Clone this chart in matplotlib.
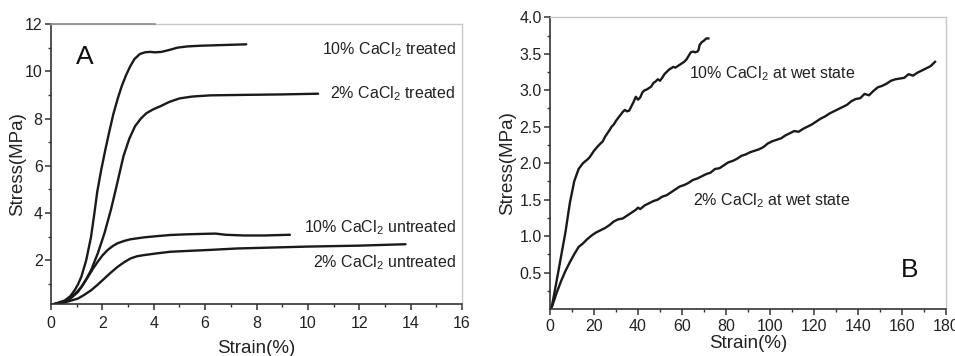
import matplotlib
matplotlib.use("Agg")
import matplotlib.pyplot as plt
from matplotlib.ticker import MultipleLocator, FormatStrFormatter

plt.rcParams['font.family'] = ['Liberation Sans', 'DejaVu Sans']
plt.rcParams['mathtext.fontset'] = 'custom'
plt.rcParams['mathtext.rm'] = 'Liberation Sans'
plt.rcParams['mathtext.it'] = 'Liberation Sans:italic'
plt.rcParams['mathtext.bf'] = 'Liberation Sans:bold'

# ---------------- Panel A data ----------------
a_t10_x = [0, 0.15, 0.54, 0.75, 0.92, 1.05, 1.18, 1.37, 1.56, 1.69, 1.8, 1.95, 2.10, 2.27, 2.43, 2.6,
           2.75, 2.92, 3.08, 3.25, 3.46, 3.65, 3.85, 4.05, 4.3, 4.6, 4.93, 5.3, 5.8, 6.4, 7.0, 7.6]
a_t10_y = [0.12, 0.16, 0.3, 0.48, 0.73, 0.98, 1.3, 2.0, 3.0, 4.0, 4.9, 5.8, 6.6, 7.45, 8.2, 8.85,
           9.36, 9.83, 10.2, 10.52, 10.73, 10.8, 10.82, 10.8, 10.82, 10.9, 11.0, 11.05, 11.08, 11.1, 11.12, 11.14]

a_t2_x = [0, 0.4, 0.79, 1.0, 1.18, 1.37, 1.56, 1.82, 2.08, 2.33, 2.5, 2.65, 2.82, 3.05, 3.27, 3.5,
          3.72, 4.0, 4.24, 4.6, 5.0, 5.5, 6.2, 7.5, 9.0, 10.4]
a_t2_y = [0.12, 0.2, 0.45, 0.65, 0.87, 1.2, 1.58, 2.29, 3.14, 4.13, 4.9, 5.6, 6.4, 7.15, 7.67, 8.0,
          8.23, 8.4, 8.51, 8.7, 8.85, 8.93, 8.98, 9.0, 9.02, 9.05]

a_u10_x = [0, 0.54, 0.8, 1.05, 1.25, 1.44, 1.62, 1.82, 2.0, 2.2, 2.4, 2.59, 2.85, 3.1, 3.62, 4.1,
           4.64, 5.3, 6.0, 6.4, 6.8, 7.5, 8.3, 9.3]
a_u10_y = [0.12, 0.23, 0.42, 0.66, 0.97, 1.3, 1.62, 1.94, 2.2, 2.43, 2.6, 2.72, 2.82, 2.89, 2.97, 3.02,
           3.07, 3.1, 3.12, 3.13, 3.08, 3.05, 3.05, 3.08]

a_u2_x = [0, 0.54, 1.05, 1.3, 1.56, 1.82, 2.08, 2.33, 2.59, 2.85, 3.1, 3.35, 3.62, 4.1, 4.64, 5.2,
          6.2, 7.25, 8.28, 10, 12, 13.8]
a_u2_y = [0.12, 0.22, 0.38, 0.54, 0.73, 0.97, 1.23, 1.48, 1.72, 1.92, 2.08, 2.17, 2.22, 2.29, 2.36, 2.39,
          2.44, 2.5, 2.53, 2.58, 2.62, 2.68]

a_labels = ["10% CaCl$_2$ treated", "2% CaCl$_2$ treated",
            "10% CaCl$_2$ untreated", "2% CaCl$_2$ untreated"]
a_label_y = [10.9, 9.05, 3.37, 1.89]

# ---------------- Panel B data ----------------
b_w10_x = [0.8, 2, 4, 7, 9, 11, 13, 15, 17, 18, 20, 22, 24, 25, 27, 28, 29, 30, 31, 32, 33, 34, 35, 36, 37,
           38, 39, 40, 41, 42, 43, 44, 46, 47, 48, 49, 50, 51, 52, 53, 54, 55, 56, 57, 58, 59, 60, 61,
           62, 63, 64, 65, 66, 67, 67.5, 68, 69, 70, 71, 72]
b_w10_y = [0.03, 0.22, 0.55, 1.05, 1.45, 1.75, 1.92, 2.0, 2.05, 2.08, 2.17, 2.24, 2.3, 2.36, 2.45, 2.5,
           2.53, 2.58, 2.62, 2.66, 2.7, 2.73, 2.71, 2.72, 2.78, 2.84, 2.91, 2.87, 2.9, 2.97, 3.0, 3.01,
           3.05, 3.1, 3.12, 3.15, 3.13, 3.17, 3.22, 3.25, 3.28, 3.3, 3.32, 3.31, 3.33, 3.35, 3.37, 3.39,
           3.42, 3.47, 3.52, 3.53, 3.52, 3.53, 3.55, 3.62, 3.66, 3.68, 3.71, 3.71]

b_w2_x = [1, 3, 5, 7, 9, 11, 13, 15, 17, 19, 21, 23, 25, 27, 29, 31, 33, 35, 37, 39, 40, 41, 43, 45, 47,
          49, 51, 53, 55, 57, 59, 61, 63, 65, 67, 69, 71, 73, 75, 77, 79, 81, 83, 85, 87, 89, 91, 93,
          95, 97, 99, 101, 103, 105, 107, 109, 111, 113, 115, 117, 119, 121, 123, 125, 127, 129, 131,
          133, 135, 137, 139, 141, 143, 145, 147, 149, 151, 153, 155, 157, 159, 161, 163, 165, 167,
          169, 171, 173, 175]
b_w2_y = [0.04, 0.22, 0.38, 0.52, 0.64, 0.75, 0.85, 0.9, 0.96, 1.01, 1.05, 1.08, 1.11, 1.15, 1.2, 1.23,
          1.24, 1.28, 1.32, 1.36, 1.39, 1.37, 1.42, 1.45, 1.48, 1.5, 1.54, 1.56, 1.6, 1.64, 1.68, 1.7,
          1.73, 1.77, 1.79, 1.82, 1.85, 1.87, 1.92, 1.93, 1.97, 2.01, 2.03, 2.06, 2.1, 2.12, 2.15, 2.17,
          2.19, 2.22, 2.27, 2.3, 2.32, 2.34, 2.38, 2.41, 2.44, 2.43, 2.47, 2.5, 2.53, 2.57, 2.61, 2.64,
          2.68, 2.71, 2.74, 2.77, 2.8, 2.85, 2.88, 2.89, 2.95, 2.93, 2.99, 3.04, 3.06, 3.09, 3.13, 3.15,
          3.16, 3.17, 3.22, 3.2, 3.24, 3.27, 3.3, 3.33, 3.39]

b_labels = ["10% CaCl$_2$ at wet state", "2% CaCl$_2$ at wet state"]
b_label_x = [63.2, 65]
b_label_y = [3.23, 1.49]

# ---------------- Figure ----------------
W, H = 955, 356
fig = plt.figure(figsize=(W / 100, H / 100), dpi=100)
axA = fig.add_axes([51 / W, 1 - 304 / H, (462 - 51) / W, (304 - 24) / H])
axB = fig.add_axes([550 / W, 1 - 309 / H, (946 - 550) / W, (309 - 17.3) / H])

lw = 1.7
dark = '#1a1a1a'
light = '#c8c8c8'

def style(ax, xpad):
    for s in ['left', 'bottom']:
        ax.spines[s].set_color('#333333')
        ax.spines[s].set_linewidth(1.2)
    for s in ['top', 'right']:
        ax.spines[s].set_color(light)
        ax.spines[s].set_linewidth(1.0)
    ax.tick_params(which='major', direction='out', length=4, width=1.1, colors='#333333',
                   labelsize=11.5, labelcolor='#222222', pad=2)
    ax.tick_params(axis='x', which='major', pad=xpad)
    ax.tick_params(which='minor', direction='out', length=2.5, width=1.0, colors='#333333')
    ax.tick_params(top=False, right=False)

# Panel A
for xs, ys in [(a_t10_x, a_t10_y), (a_t2_x, a_t2_y), (a_u10_x, a_u10_y), (a_u2_x, a_u2_y)]:
    axA.plot(xs, ys, color=dark, lw=lw, solid_capstyle='round', solid_joinstyle='round')
axA.set_xlim(0, 16)
axA.set_ylim(0.15, 12)
axA.xaxis.set_major_locator(MultipleLocator(2))
axA.xaxis.set_minor_locator(MultipleLocator(1))
axA.set_yticks([2, 4, 6, 8, 10, 12])
axA.set_yticks([1, 3, 5, 7, 9, 11], minor=True)
style(axA, 5)
axA.plot([0, 4.05], [12, 12], color='#8a8a8a', lw=1.2, clip_on=False, zorder=5)
axA.set_xlabel("Strain(%)", fontsize=13.5, color='#222222', labelpad=6)
axA.set_ylabel("Stress(MPa)", fontsize=13.5, color='#222222', labelpad=-1)
for lab, y in zip(a_labels, a_label_y):
    axA.text(15.75, y, lab, ha='right', va='center', fontsize=11.5, color='#222222')
axA.text(0.97, 10.6, "A", ha='left', va='center', fontsize=19, color='#111111')

# Panel B
for xs, ys in [(b_w10_x, b_w10_y), (b_w2_x, b_w2_y)]:
    axB.plot([0] + xs, [0] + ys, color=dark, lw=lw, solid_joinstyle='round')
axB.set_xlim(0, 180)
axB.set_ylim(0, 4.0)
axB.xaxis.set_major_locator(MultipleLocator(20))
axB.xaxis.set_minor_locator(MultipleLocator(10))
axB.set_yticks([0.5, 1.0, 1.5, 2.0, 2.5, 3.0, 3.5, 4.0])
axB.set_yticks([0.25, 0.75, 1.25, 1.75, 2.25, 2.75, 3.25, 3.75], minor=True)
axB.yaxis.set_major_formatter(FormatStrFormatter('%.1f'))
style(axB, 3)
axB.set_xlabel("Strain(%)", fontsize=13.5, color='#222222', labelpad=1)
axB.set_ylabel("Stress(MPa)", fontsize=13.5, color='#222222', labelpad=2)
for lab, x, y in zip(b_labels, b_label_x, b_label_y):
    axB.text(x, y, lab, ha='left', va='center', fontsize=11.5, color='#222222')
axB.text(163.6, 0.53, "B", ha='center', va='center', fontsize=19, color='#111111')

fig.savefig("out.png", dpi=100)
